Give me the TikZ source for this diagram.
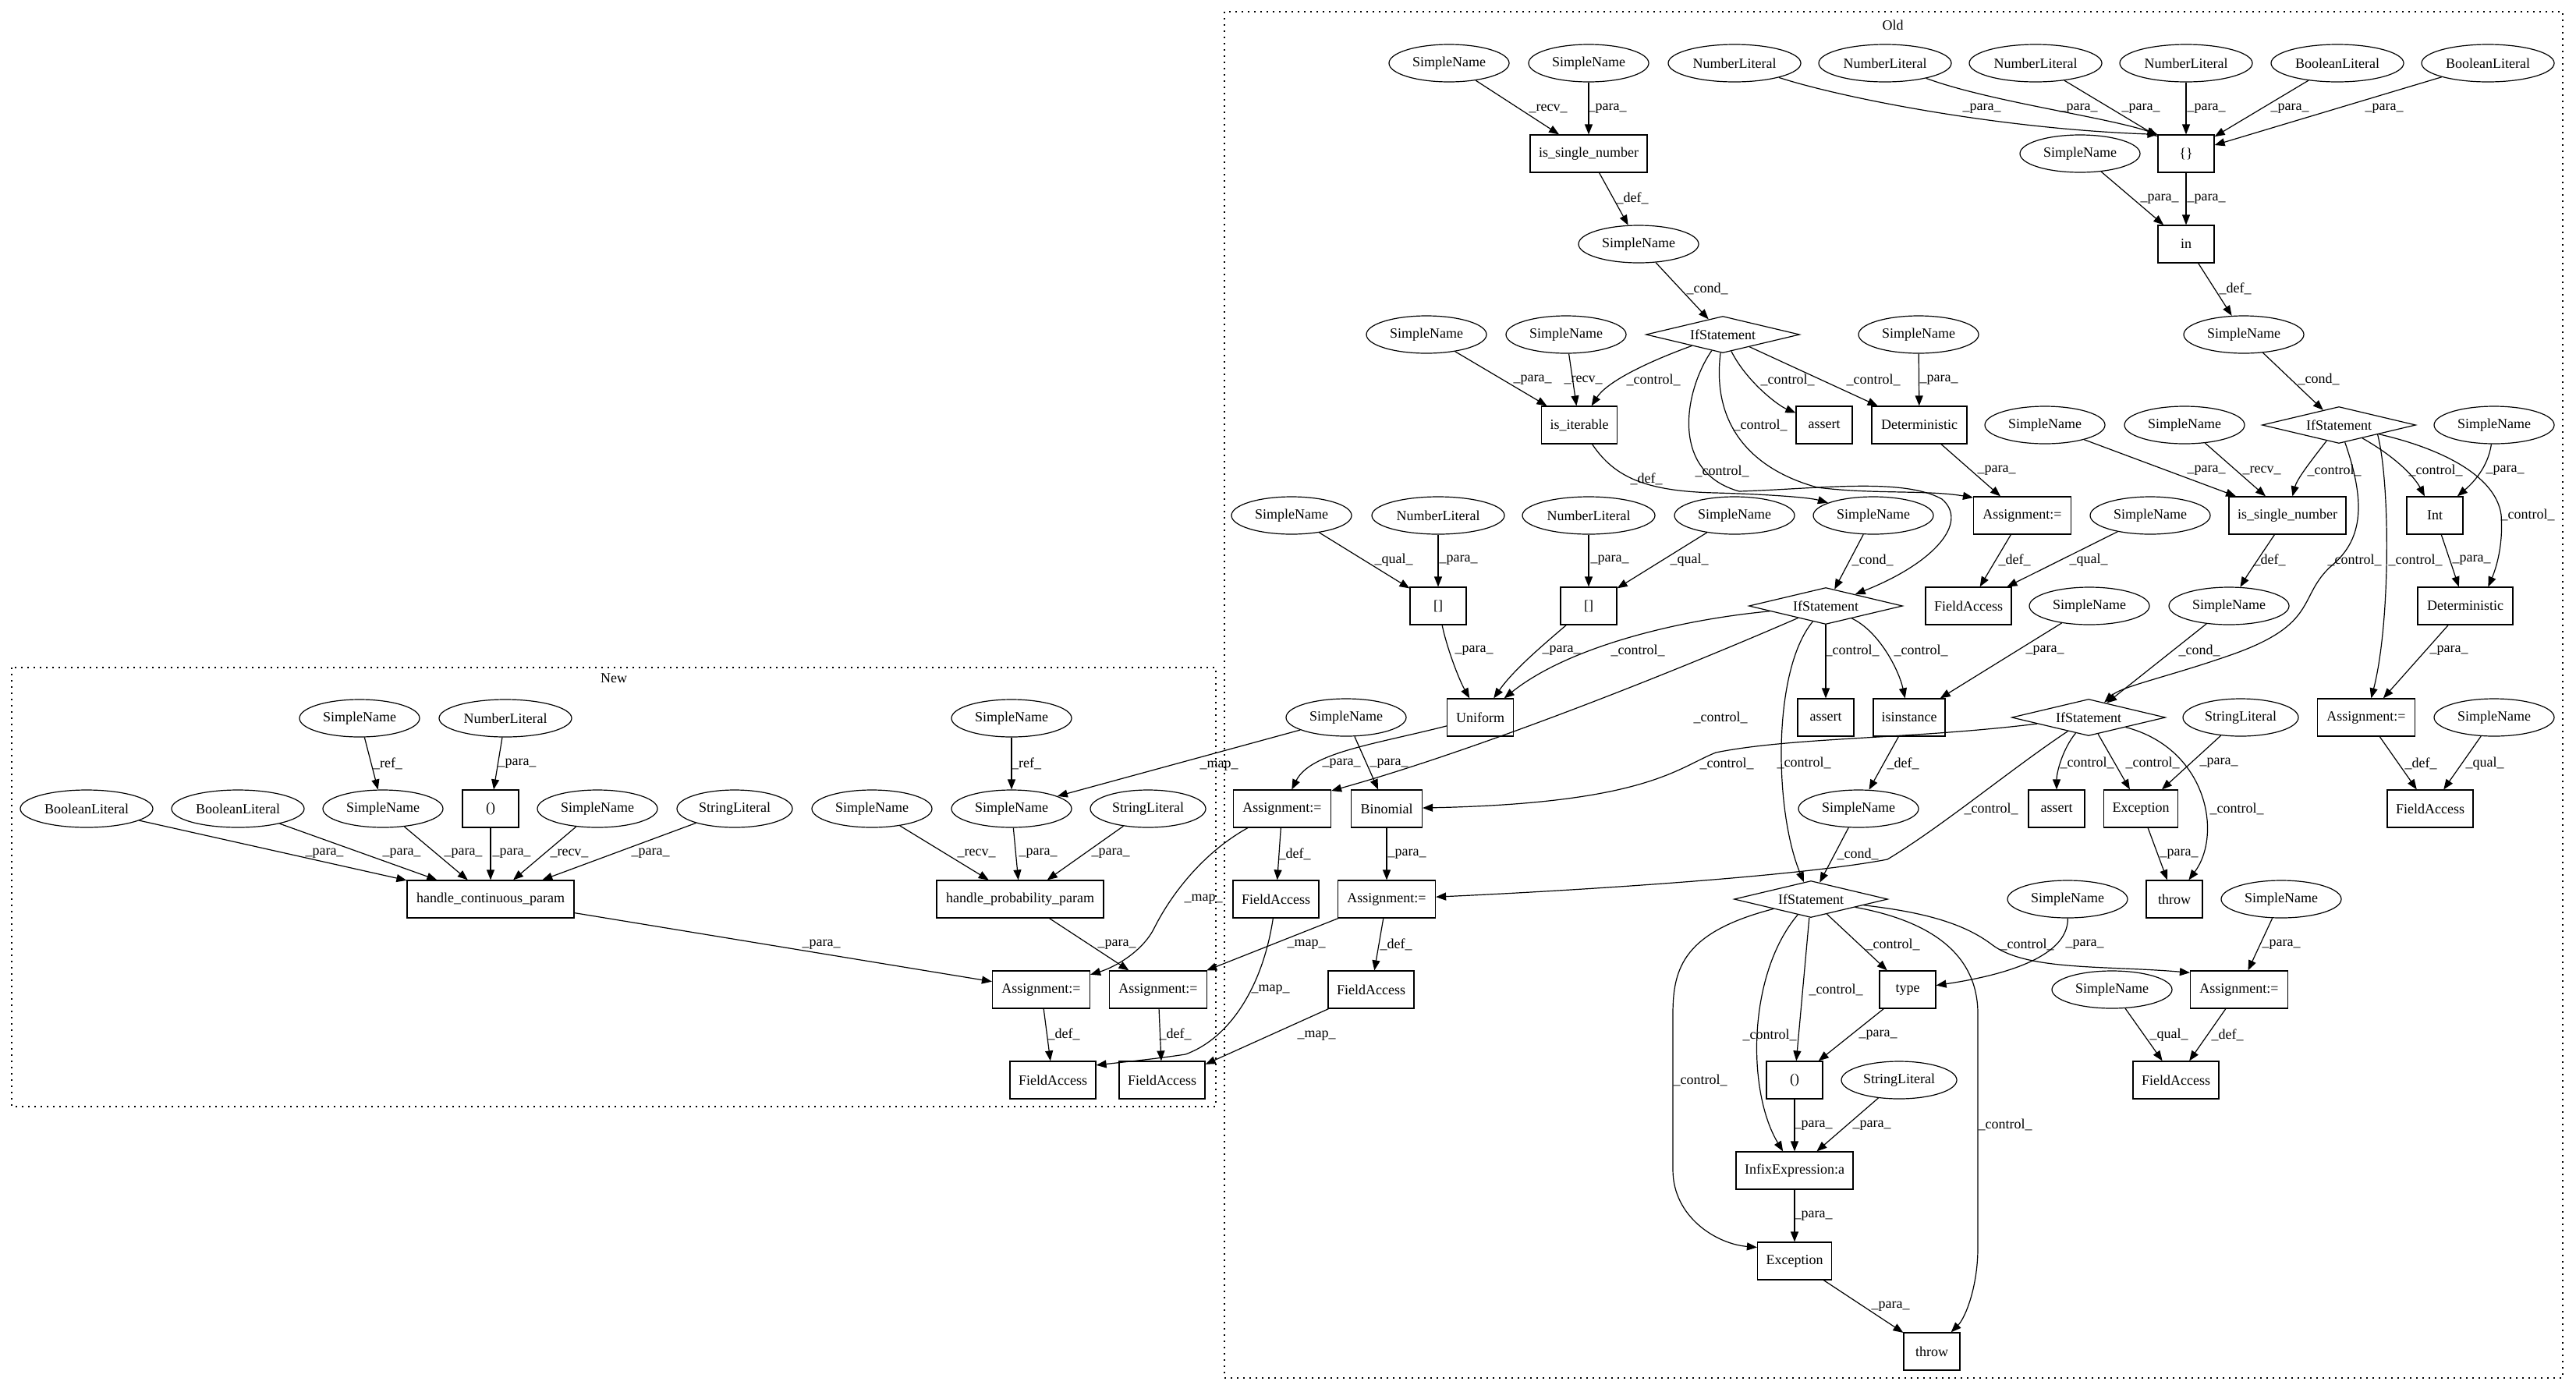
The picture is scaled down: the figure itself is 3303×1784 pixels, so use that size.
\documentclass[tikz,border=0pt]{standalone}
\usepackage{fontspec}
\setmainfont{Liberation Serif}
\usetikzlibrary{shapes.geometric,arrows.meta}
\begin{document}
\begin{tikzpicture}[x=0.5pt,y=-0.5pt,
  every node/.style={font=\fontsize{9}{10}\selectfont},
  el/.style={draw, ellipse, line width=0.6pt, minimum width=77pt, minimum height=24pt, inner sep=0pt},
  bx/.style={draw, rectangle, line width=0.6pt, minimum height=24pt, inner sep=1pt},
  dm/.style={draw, diamond, line width=0.6pt, aspect=4.2, minimum width=98.5pt, minimum height=23.5pt, inner sep=0pt},
  e/.style={-{Triangle[length=6.5pt,width=5pt]}, line width=0.6pt},
  lb/.style={inner sep=0pt},
  cl/.style={draw, line width=0.7pt, dash pattern=on 1pt off 3pt}]
\useasboundingbox (0,0) rectangle (3303,1784);
% clusters
\draw[cl] (15,856) rectangle (1559,1419);
\node (newlbl) at (787,870) {New};
\draw[cl] (1570,15) rectangle (3286,1767);
\node (oldlbl) at (2427,32) {Old};
% ---------- New ----------
\node[el] (n1) at (461,921) {SimpleName};
\node[el, minimum width=85pt] (n2) at (648,921) {NumberLiteral};
\node[el, minimum width=85pt] (n3) at (111,1037) {BooleanLiteral};
\node[el, minimum width=85pt] (n4) at (305,1037) {BooleanLiteral};
\node[el] (n5) at (491,1037) {SimpleName};
\node[bx, minimum width=36pt] (n6) at (629,1037) {()};
\node[el] (n7) at (766,1037) {SimpleName};
\node[el, minimum width=74pt] (n8) at (942,1037) {StringLiteral};
\node[bx, minimum width=107pt] (n9) at (629,1153) {handle\_continuous\_param};
\node[el] (n10) at (1118,1037) {SimpleName};
\node[el] (n11) at (1297,921) {SimpleName};
\node[el] (n12) at (1297,1037) {SimpleName};
\node[el, minimum width=74pt] (n13) at (1472,1037) {StringLiteral};
\node[bx, minimum width=107pt] (n14) at (1308,1153) {handle\_probability\_param};
\node[bx, minimum width=62.5pt] (n15) at (1335,1269) {Assignment:=};
\node[bx, minimum width=62.5pt] (n16) at (1485,1269) {Assignment:=};
\node[bx, minimum width=55pt] (n17) at (1350,1385) {FieldAccess};
\node[bx, minimum width=55pt] (n18) at (1490,1385) {FieldAccess};
% ---------- Old ----------
% R0
\node[el] (oa) at (1858,81) {SimpleName};
\node[el] (ob) at (2037,81) {SimpleName};
\node[el, minimum width=85pt] (oc) at (2224,81) {NumberLiteral};
\node[el, minimum width=85pt] (od) at (2417,81) {NumberLiteral};
\node[el, minimum width=85pt] (oe) at (2610,81) {NumberLiteral};
\node[el, minimum width=85pt] (of) at (2803,81) {NumberLiteral};
\node[el, minimum width=85pt] (og) at (2997,81) {BooleanLiteral};
\node[el, minimum width=85pt] (oh) at (3190,81) {BooleanLiteral};
% R1
\node[bx, minimum width=75pt] (isn1) at (2037,197) {is\_single\_number};
\node[bx, minimum width=36pt] (obr) at (2803,197) {\{\}};
\node[el] (ofn) at (2667,197) {SimpleName};
% R2
\node[el] (osd) at (2101,313) {SimpleName};
\node[bx, minimum width=36pt] (oin) at (2803,313) {in};
% R3
\node[dm] (IF1) at (2209,429) {IfStatement};
\node[el] (osc) at (1829,429) {SimpleName};
\node[el] (osdd) at (2008,429) {SimpleName};
\node[el] (ose) at (2460,429) {SimpleName};
\node[el] (osg) at (2877,429) {SimpleName};
% R4
\node[bx, minimum width=48.5pt] (iter) at (2025,545) {is\_iterable};
\node[bx, minimum width=36pt] (as1) at (2339,545) {assert};
\node[bx, minimum width=61pt] (det1) at (2461,545) {Deterministic};
\node[dm] (IF2) at (2999,545) {IfStatement};
\node[el] (osh) at (2622,545) {SimpleName};
\node[el] (osi) at (2801,545) {SimpleName};
\node[el] (osj) at (3198,545) {SimpleName};
% R5
\node[el] (osk) at (1656,661) {SimpleName};
\node[el, minimum width=85pt] (nl5) at (1844,661) {NumberLiteral};
\node[el, minimum width=85pt] (nl6) at (2037,661) {NumberLiteral};
\node[el] (osl) at (2224,661) {SimpleName};
\node[el] (osm) at (2402,661) {SimpleName};
\node[bx, minimum width=62.5pt] (asc) at (2593,661) {Assignment:=};
\node[el] (osp) at (2757,661) {SimpleName};
\node[bx, minimum width=75pt] (isn2) at (2933,661) {is\_single\_number};
\node[bx, minimum width=36pt] (int) at (3122,661) {Int};
% R6
\node[bx, minimum width=36pt] (br1) at (1844,777) {[]};
\node[bx, minimum width=36pt] (br2) at (2037,777) {[]};
\node[dm] (IF3) at (2341,777) {IfStatement};
\node[bx, minimum width=55pt] (fac) at (2524,777) {FieldAccess};
\node[el] (osq) at (2679,777) {SimpleName};
\node[el] (osr) at (2858,777) {SimpleName};
\node[bx, minimum width=61pt] (det2) at (3161,777) {Deterministic};
% R7
\node[el] (osn) at (1726,920) {SimpleName};
\node[bx, minimum width=42.5pt] (uni) at (1898,920) {Uniform};
\node[bx, minimum width=36pt] (as2) at (2341,920) {assert};
\node[bx, minimum width=46pt] (isi) at (2448,920) {isinstance};
\node[dm] (IF5) at (2678,920) {IfStatement};
\node[el, minimum width=74pt] (sla) at (2873,920) {StringLiteral};
\node[bx, minimum width=62.5pt] (asd) at (3034,920) {Assignment:=};
\node[el] (oss) at (3198,920) {SimpleName};
% R8
\node[bx, minimum width=62.5pt] (asa) at (1644,1037) {Assignment:=};
\node[bx, minimum width=45.5pt] (bin) at (1778,1037) {Binomial};
\node[el] (oso) at (2383,1037) {SimpleName};
\node[bx, minimum width=36pt] (as3) at (2637,1037) {assert};
\node[bx, minimum width=47.5pt] (exc1) at (2745,1037) {Exception};
\node[bx, minimum width=55pt] (fad) at (3116,1037) {FieldAccess};
% R9
\node[bx, minimum width=55pt] (faa) at (1636,1153) {FieldAccess};
\node[bx, minimum width=62.5pt] (asb) at (1778,1153) {Assignment:=};
\node[dm] (IF4) at (2322,1153) {IfStatement};
\node[el] (ost) at (2651,1153) {SimpleName};
\node[bx, minimum width=36pt] (thr1) at (2788,1153) {throw};
\node[el] (osu) at (2925,1153) {SimpleName};
% R10
\node[bx, minimum width=55pt] (fab) at (1758,1269) {FieldAccess};
\node[bx, minimum width=36pt] (type) at (2446,1269) {type};
\node[el] (osv) at (2708,1269) {SimpleName};
\node[bx, minimum width=62.5pt] (ase) at (2871,1269) {Assignment:=};
% R11-14
\node[bx, minimum width=36pt] (par2) at (2301,1385) {()};
\node[el, minimum width=74pt] (slb) at (2435,1385) {StringLiteral};
\node[bx, minimum width=55pt] (fae) at (2790,1385) {FieldAccess};
\node[bx, minimum width=75pt] (inf) at (2301,1501) {InfixExpression:a};
\node[bx, minimum width=47.5pt] (exc2) at (2301,1617) {Exception};
\node[bx, minimum width=36pt] (thr2) at (2477,1733) {throw};
% ---------- New edges ----------
\draw[e] (n1) -- (n5) node[lb] at (497,979) {\_ref\_};
\draw[e] (n2) -- (n6) node[lb] at (663,979) {\_para\_};
\draw[e] (n3) -- (n9) node[lb] at (416,1094) {\_para\_};
\draw[e] (n4) -- (n9) node[lb] at (515,1094) {\_para\_};
\draw[e] (n5) -- (n9) node[lb] at (594,1094) {\_para\_};
\draw[e] (n6) -- (n9) node[lb] at (656,1094) {\_para\_};
\draw[e] (n7) -- (n9) node[lb] at (730,1094) {\_recv\_};
\draw[e] (n8) -- (n9) node[lb] at (834,1094) {\_para\_};
\draw[e] (n9) -- (n15) node[lb] at (1053,1211) {\_para\_};
\draw[e] (n11) -- (n12) node[lb] at (1316,979) {\_ref\_};
\draw[e] (n10) -- (n14) node[lb] at (1252,1094) {\_recv\_};
\draw[e] (n12) -- (n14) node[lb] at (1331,1094) {\_para\_};
\draw[e] (n13) -- (n14) node[lb] at (1424,1094) {\_para\_};
\draw[e] (n14) -- (n16) node[lb] at (1432,1211) {\_para\_};
\draw[e] (n15) -- (n17) node[lb] at (1364,1326) {\_def\_};
\draw[e] (n16) -- (n18) node[lb] at (1507,1326) {\_def\_};
% ---------- Old edges ----------
\draw[e] (oa) -- (isn1) node[lb] at (1985,139) {\_recv\_};
\draw[e] (ob) -- (isn1) node[lb] at (2061,139) {\_para\_};
\draw[e] (oc) .. controls (2360,125) and (2560,165) .. (obr.north west) node[lb] at (2541,139) {\_para\_};
\draw[e] (od) .. controls (2550,130) and (2700,150) .. (obr.north west) node[lb] at (2665,139) {\_para\_};
\draw[e] (oe) -- (obr) node[lb] at (2745,139) {\_para\_};
\draw[e] (of) -- (obr) node[lb] at (2829,139) {\_para\_};
\draw[e] (og) -- (obr) node[lb] at (2936,139) {\_para\_};
\draw[e] (oh) -- (obr) node[lb] at (3057,139) {\_para\_};
\draw[e] (ofn) -- (oin) node[lb] at (2769,255) {\_para\_};
\draw[e] (obr) -- (oin) node[lb] at (2829,255) {\_para\_};
\draw[e] (isn1) -- (osd) node[lb] at (2093,254) {\_def\_};
\draw[e] (oin) -- (osg) node[lb] at (2866,370) {\_def\_};
\draw[e] (osd) -- (IF1) node[lb] at (2189,370) {\_cond\_};
\draw[e] (osg) -- (IF2) node[lb] at (2973,486) {\_cond\_};
\draw[e] (osc) -- (iter) node[lb] at (1965,487) {\_para\_};
\draw[e] (osdd) -- (iter) node[lb] at (2030,487) {\_recv\_};
\draw[e] (IF1) .. controls (2110,465) and (2060,490) .. (iter) node[lb] at (2120,487) {\_control\_};
\draw[e] (IF1) .. controls (2240,490) and (2280,520) .. (as1) node[lb] at (2292,487) {\_control\_};
\draw[e] (IF1) -- (det1) node[lb] at (2402,487) {\_control\_};
\draw[e] (ose) -- (det1) node[lb] at (2486,487) {\_para\_};
\draw[e] (IF1) .. controls (2160,500) and (2140,605) .. (2230,630) .. controls (2330,627) and (2440,612) .. (2490,640) .. controls (2525,670) and (2480,722) .. (IF3) node[lb] at (2208,604) {\_control\_};
\draw[e] (IF1) .. controls (2195,540) and (2240,600) .. (2330,625) .. controls (2400,634) and (2470,628) .. (asc.160) node[lb] at (2257,545) {\_control\_};
\draw[e] (iter) .. controls (2070,612) and (2110,630) .. (2200,632) .. controls (2270,634) and (2320,638) .. (osm) node[lb] at (2111,614) {\_def\_};
\draw[e] (det1) -- (asc) node[lb] at (2560,603) {\_para\_};
\draw[e] (asc) -- (fac) node[lb] at (2583,718) {\_def\_};
\draw[e] (osp) -- (fac) node[lb] at (2678,718) {\_qual\_};
\draw[e] (osm) -- (IF3) node[lb] at (2401,718) {\_cond\_};
\draw[e] (osk) -- (br1) node[lb] at (1787,718) {\_qual\_};
\draw[e] (nl5) -- (br1) node[lb] at (1870,718) {\_para\_};
\draw[e] (nl6) -- (br2) node[lb] at (2064,718) {\_para\_};
\draw[e] (osl) -- (br2) node[lb] at (2166,718) {\_qual\_};
\draw[e] (br1) .. controls (1855,830) and (1870,870) .. (uni) node[lb] at (1890,834) {\_para\_};
\draw[e] (br2) .. controls (1975,830) and (1940,860) .. (uni) node[lb] at (2002,834) {\_para\_};
\draw[e] (IF3) .. controls (2150,795) and (2010,830) .. (uni) node[lb] at (2100,834) {\_control\_};
\draw[e] (IF3) .. controls (2150,860) and (1900,960) .. (asa.20) node[lb] at (2206,920) {\_control\_};
\draw[e] (IF3) -- (as2) node[lb] at (2375,834) {\_control\_};
\draw[e] (IF3) .. controls (2410,810) and (2435,860) .. (isi) node[lb] at (2463,834) {\_control\_};
\draw[e] (IF3) .. controls (2272,860) and (2275,1040) .. (IF4) node[lb] at (2313,978) {\_control\_};
\draw[e] (uni) .. controls (1760,955) and (1680,965) .. (asa) node[lb] at (1720,979) {\_para\_};
\draw[e] (osn) -- (bin) node[lb] at (1781,979) {\_para\_};
\draw[e] (osn) -- (n12) node[lb] at (1563,982) {\_map\_};
\draw[e] (asa) -- (faa) node[lb] at (1660,1095) {\_def\_};
\draw[e] (bin) -- (asb) node[lb] at (1804,1095) {\_para\_};
\draw[e] (asb) -- (fab) node[lb] at (1790,1211) {\_def\_};
\draw[e] (asa) .. controls (1540,1095) and (1500,1150) .. (1480,1190) .. controls (1465,1220) and (1430,1240) .. (n15) node[lb] at (1543,1153) {\_map\_};
\draw[e] (asb) -- (n16) node[lb] at (1675,1211) {\_map\_};
\draw[e] (faa) .. controls (1620,1260) and (1580,1330) .. (1520,1352) .. controls (1480,1358) and (1440,1362) .. (n17.19) node[lb] at (1629,1269) {\_map\_};
\draw[e] (fab) -- (n18.20) node[lb] at (1688,1328) {\_map\_};
\draw[e] (isi) -- (oso) node[lb] at (2440,979) {\_def\_};
\draw[e] (osq) -- (isi) node[lb] at (2622,834) {\_para\_};
\draw[e] (oso) -- (IF4) node[lb] at (2382,1095) {\_cond\_};
% IF2
\draw[e] (IF2) .. controls (2960,595) and (2945,615) .. (isn2) node[lb] at (2993,603) {\_control\_};
\draw[e] (osh) -- (isn2) node[lb] at (2829,603) {\_para\_};
\draw[e] (osi) -- (isn2) node[lb] at (2900,603) {\_recv\_};
\draw[e] (IF2) .. controls (3070,585) and (3095,610) .. (int) node[lb] at (3123,603) {\_control\_};
\draw[e] (osj) .. controls (3190,600) and (3170,620) .. (int) node[lb] at (3212,603) {\_para\_};
\draw[e] (IF2) .. controls (3130,575) and (3200,610) .. (3207,660) .. controls (3210,700) and (3200,730) .. (det2.40) node[lb] at (3241,660) {\_control\_};
\draw[e] (IF2.south east) .. controls (3065,620) and (3065,800) .. (asd) node[lb] at (3097,718) {\_control\_};
\draw[e] (IF2) .. controls (3032,640) and (3032,690) .. (2990,725) .. controls (2945,765) and (2975,800) .. (2860,840) .. controls (2780,868) and (2720,880) .. (IF5) node[lb] at (3019,718) {\_control\_};
\draw[e] (int) -- (det2) node[lb] at (3169,718) {\_para\_};
\draw[e] (det2) -- (asd) node[lb] at (3140,834) {\_para\_};
\draw[e] (asd) -- (fad) node[lb] at (3104,979) {\_def\_};
\draw[e] (oss) -- (fad) node[lb] at (3186,979) {\_qual\_};
\draw[e] (isn2) .. controls (2900,710) and (2880,740) .. (osr) node[lb] at (2910,718) {\_def\_};
\draw[e] (osr) -- (IF5) node[lb] at (2820,834) {\_cond\_};
% IF5
\draw[e] (IF5) .. controls (2450,948) and (2300,945) .. (2200,965) .. controls (2150,985) and (2110,1030) .. (bin) node[lb] at (2214,979) {\_control\_};
\draw[e] (IF5) .. controls (2580,985) and (2490,1060) .. (2420,1102) .. controls (2300,1125) and (2000,1143) .. (asb) node[lb] at (2553,1037) {\_control\_};
\draw[e] (IF5) .. controls (2645,960) and (2637,990) .. (as3) node[lb] at (2676,978) {\_control\_};
\draw[e] (IF5) -- (exc1) node[lb] at (2760,978) {\_control\_};
\draw[e] (sla) -- (exc1) node[lb] at (2845,978) {\_para\_};
\draw[e] (IF5) .. controls (2830,960) and (2850,1070) .. (thr1) node[lb] at (2868,1037) {\_control\_};
\draw[e] (exc1) -- (thr1) node[lb] at (2794,1095) {\_para\_};
% IF4
\draw[e] (IF4) -- (type) node[lb] at (2427,1211) {\_control\_};
\draw[e] (IF4) -- (par2) node[lb] at (2354,1269) {\_control\_};
\draw[e] (IF4) .. controls (2240,1250) and (2240,1400) .. (inf) node[lb] at (2269,1327) {\_control\_};
\draw[e] (IF4) .. controls (2160,1195) and (2145,1240) .. (2145,1300) -- (2145,1500) .. controls (2145,1560) and (2200,1595) .. (exc2.160) node[lb] at (2180,1385) {\_control\_};
\draw[e] (IF4) .. controls (2470,1180) and (2536,1220) .. (2536,1300) -- (2536,1600) .. controls (2536,1650) and (2520,1690) .. (thr2) node[lb] at (2571,1442) {\_control\_};
\draw[e] (IF4) .. controls (2470,1170) and (2520,1185) .. (2555,1212) .. controls (2600,1245) and (2700,1238) .. (ase.161) node[lb] at (2599,1211) {\_control\_};
\draw[e] (ost) .. controls (2652,1230) and (2560,1252) .. (type) node[lb] at (2673,1211) {\_para\_};
\draw[e] (type) -- (par2) node[lb] at (2408,1327) {\_para\_};
\draw[e] (par2) -- (inf) node[lb] at (2325,1443) {\_para\_};
\draw[e] (slb) -- (inf) node[lb] at (2400,1443) {\_para\_};
\draw[e] (inf) -- (exc2) node[lb] at (2325,1559) {\_para\_};
\draw[e] (exc2) -- (thr2) node[lb] at (2424,1675) {\_para\_};
\draw[e] (osu) -- (ase) node[lb] at (2925,1211) {\_para\_};
\draw[e] (ase) -- (fae) node[lb] at (2856,1327) {\_def\_};
\draw[e] (osv) -- (fae) node[lb] at (2781,1327) {\_qual\_};
\end{tikzpicture}
\end{document}
